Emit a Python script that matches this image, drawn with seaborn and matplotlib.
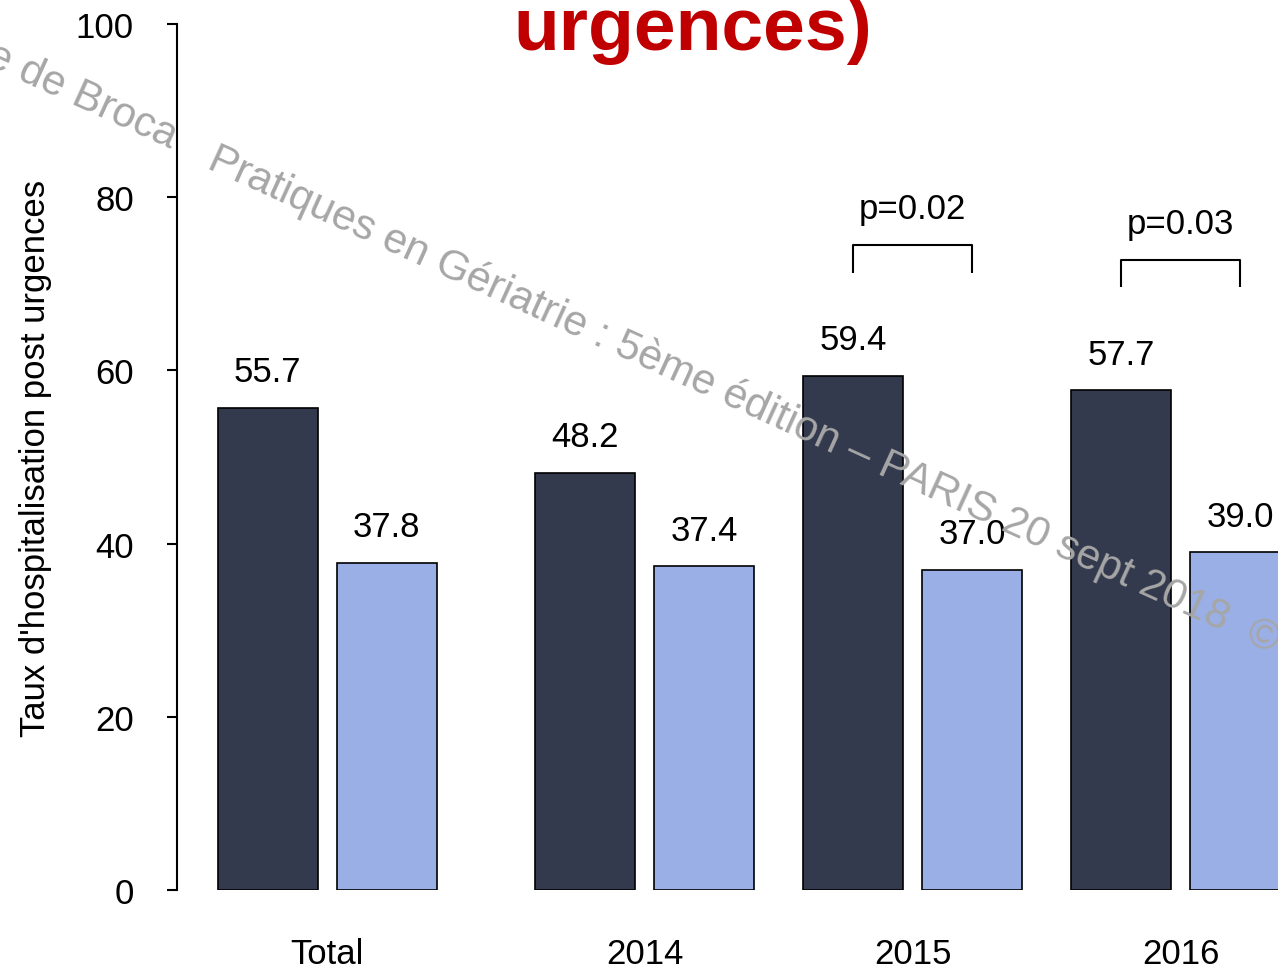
"""Taux d'hospitalisation post urgences, bar chart with p-values (recreated)."""

import numpy as np
import pandas as pd
import matplotlib
matplotlib.use("Agg")
import matplotlib.pyplot as plt
import seaborn as sns


# values
categories = ["Total", "2014", "2015", "2016"]
series_names = ["Groupe 1", "Groupe 2"]
group_1 = [55.7, 48.2, 59.4, 57.7]
group_2 = [37.8, 37.4, 37.0, 39.0]
p_labels = ["p=0.02", "p=0.03"]
p_categories = ["2015", "2016"]

y_ticks = [0, 20, 40, 60, 80, 100]

# layout (the Total group sits a bit further away from the years)
group_pos = [0.0, 1.185, 2.185, 3.185]
bracket_top = [74.5, 72.8]
bracket_drop = 3.2
p_text_y = [77.6, 75.9]

DARK = "#343A4D"
LIGHT = "#9AAFE5"
RED = "#C00000"
GREY = "#A6A6A6"

df = pd.DataFrame({
    "pos": group_pos * 2,
    "taux": group_1 + group_2,
    "serie": [series_names[0]] * 4 + [series_names[1]] * 4,
})

sns.set_theme(style="white")
plt.rcParams["font.family"] = ["Liberation Sans", "DejaVu Sans"]
plt.rcParams["text.color"] = "black"
plt.rcParams["axes.labelcolor"] = "black"
plt.rcParams["xtick.color"] = "black"
plt.rcParams["ytick.color"] = "black"

fig = plt.figure(figsize=(12.78, 9.70), dpi=100)
ax = fig.add_axes([177 / 1278, 79 / 970, 1101 / 1278, 866 / 970])

sns.barplot(
    data=df, x="pos", y="taux", hue="serie", hue_order=series_names,
    palette=[DARK, LIGHT], saturation=1, native_scale=True, width=0.888,
    gap=0.16, edgecolor="black", linewidth=1.2, legend=False, ax=ax,
)

for cont in ax.containers:
    ax.bar_label(cont, fmt="%.1f", padding=14, fontsize=25, color="black")

# p-value brackets between the two bars of a year
for lab, cat, top, ty in zip(p_labels, p_categories, bracket_top, p_text_y):
    i = categories.index(cat)
    b1 = ax.containers[0][i]
    b2 = ax.containers[1][i]
    x1 = b1.get_x() + b1.get_width() / 2
    x2 = b2.get_x() + b2.get_width() / 2
    ax.plot([x1, x1, x2, x2], [top - bracket_drop, top, top, top - bracket_drop],
            color="black", lw=1.5, solid_capstyle="butt", clip_on=False)
    ax.text((x1 + x2) / 2, ty, lab, ha="center", va="baseline", fontsize=25)

ax.set_xlim(-0.56, 3.549)
ax.set_ylim(0, 100)
ax.set_xticks(group_pos)
ax.set_xticklabels(categories, fontsize=25)
ax.set_yticks(y_ticks)
ax.set_yticklabels([str(t) for t in y_ticks], fontsize=25)
ax.tick_params(axis="x", length=0, pad=34)
ax.tick_params(axis="y", left=True, length=7, width=1.5, pad=24, color="black")
ax.set_xlabel("")
ax.set_ylabel("Taux d'hospitalisation post urgences", fontsize=25)
ax.yaxis.set_label_coords(-0.1135, 0.5)

sns.despine(ax=ax, bottom=True)
ax.spines["left"].set_bounds(0, 100)
ax.spines["left"].set_linewidth(1.5)
ax.spines["left"].set_color("black")

# slide title (only its second line is inside the picture)
fig.text(693 / 1278, 1 - 50 / 970, "urgences)", ha="center", va="baseline",
         fontsize=54, fontweight="bold", color=RED)

# watermark across the slide
fig.text(170 / 1278, 1 - 149 / 970, "e de Broca", ha="right", va="baseline",
         rotation=-24.5, rotation_mode="anchor", fontsize=30.5, color=GREY)
fig.text(206 / 1278, 1 - 168 / 970,
         "Pratiques en Gériatrie : 5ème édition \u2013 PARIS 20 sept 2018  \u00a9",
         ha="left", va="baseline", rotation=-24.5, rotation_mode="anchor",
         fontsize=30.5, color=GREY)

fig.savefig("out.png", dpi=100)
